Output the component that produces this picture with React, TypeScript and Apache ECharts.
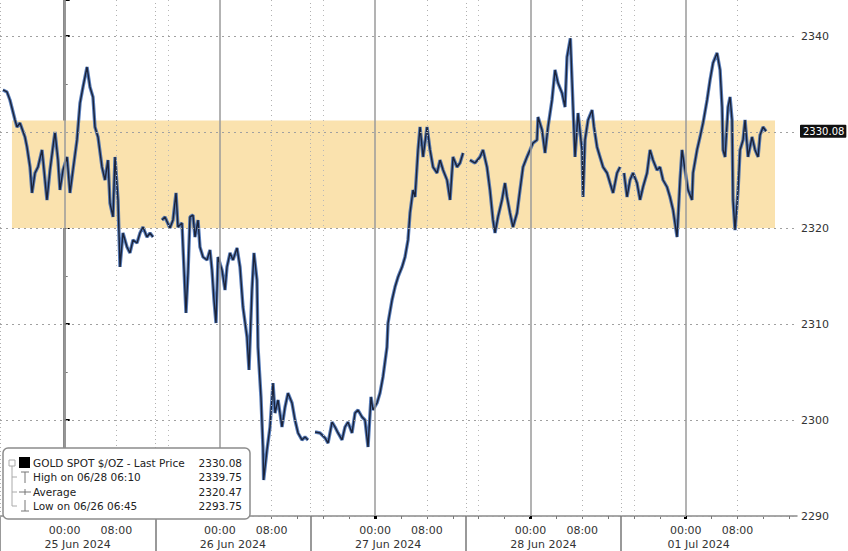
import React, { useEffect, useRef } from "react";
import * as echarts from "echarts";

// Time axis: trading hours relative to 25 Jun 2024 00:00 (weekend removed, 01 Jul 00:00 = 96)
const hours: number[] = [
  // session 24/25 Jun
  -9.54, -8.92, -8.46, -7.68, -7.37, -6.91, -6.14, -5.83, -5.36, -5.05, -4.59, -4.13, -3.51, -3.35, -2.74,
  -2.27, -1.81, -1.5, -1.04, -0.73, -0.26, 0.36, 0.82, 1.28, 1.9, 2.37, 2.83, 3.45, 3.91, 4.37, 4.68, 5.15,
  5.77, 6.23, 6.69, 7.0, 7.47, 7.78, 8.24, 8.55, 9.01, 9.63, 10.09, 10.56, 11.18, 11.64, 12.1, 12.72, 13.19,
  13.65, 14.3,
  // session 26 Jun
  15.04, 15.5, 16.27, 16.74, 17.21, 17.51, 18.13, 18.29, 18.75, 19.06, 19.37, 19.83, 20.14, 20.61, 20.91,
  21.38, 22.0, 22.46, 22.77, 23.08, 23.39, 23.7, 24.32, 24.78, 25.09, 25.56, 26.02, 26.64, 27.1, 27.56, 28.18,
  28.49, 28.95, 29.26, 29.72, 29.88, 30.34, 30.65, 30.75, 31.27, 31.74, 32.2, 32.51, 32.98, 33.59, 34.06,
  34.52, 35.14, 35.6, 36.07, 36.68, 37.15, 37.61, 38.2,
  // session 27 Jun
  38.7, 39.47, 40.25, 40.71, 41.33, 41.79, 42.25, 42.87, 43.33, 43.79, 44.41, 44.88, 45.34, 45.96, 46.42,
  46.89, 47.35, 47.66, 48.28, 48.74, 49.2, 49.82, 49.98, 50.6, 51.06, 51.53, 52.15, 52.61, 53.07, 53.38,
  53.85, 54.16, 54.62, 54.93, 55.4, 56.01, 56.48, 56.94, 57.56, 58.02, 58.49, 59.1, 59.57, 60.03, 60.65,
  61.11, 61.58, 62.1,
  // session 28 Jun
  62.65, 63.42, 64.2, 64.66, 65.28, 65.74, 66.21, 66.52, 66.98, 67.6, 68.06, 68.37, 68.84, 69.3, 69.92,
  70.38, 70.85, 71.46, 71.93, 72.39, 73.01, 73.17, 73.79, 74.25, 74.71, 75.33, 75.8, 76.26, 76.88, 77.34,
  77.65, 78.17, 78.42, 78.58, 78.89, 79.35, 79.97, 80.13, 80.43, 80.9, 81.52, 81.82, 82.29, 82.75, 83.22,
  83.84, 84.3, 84.77, 85.38, 85.85, 86.1,
  // session 01 Jul
  86.46, 86.93, 87.39, 87.85, 88.47, 88.94, 89.4, 90.02, 90.48, 90.94, 91.56, 92.03, 92.49, 93.11, 93.57,
  94.04, 94.66, 95.12, 95.43, 95.89, 96.36, 96.97, 97.13, 97.75, 98.21, 98.68, 99.3, 99.76, 100.22, 100.84,
  101.31, 101.62, 101.77, 102.08, 102.54, 102.85, 103.16, 103.31, 103.62, 104.09, 104.4, 104.86, 105.17,
  105.63, 106.25, 106.72, 107.18, 107.49, 107.95, 108.42,
];

const prices: (number | null)[] = [
  2334.38, 2334.17, 2333.33, 2331.25, 2330.52, 2330.94, 2329.48, 2328.44, 2326.35, 2323.65, 2325.73, 2326.35,
  2328.13, 2327.08, 2322.92, 2326.04, 2328.44, 2330.0, 2327.08, 2323.96, 2326.04, 2327.4, 2323.65, 2326.04,
  2329.17, 2333.02, 2334.69, 2336.77, 2334.69, 2333.65, 2330.52, 2329.48, 2326.35, 2325.0, 2327.08, 2322.6,
  2321.15, 2327.4, 2322.92, 2315.94, 2319.48, 2318.02, 2317.4, 2318.75, 2318.44, 2319.48, 2320.1, 2319.06,
  2319.48, 2319.06, null,
  2320.83, 2321.15, 2320.0, 2320.83, 2323.65, 2320.1, 2320.52, 2318.02, 2311.15, 2315.31, 2321.15, 2321.35,
  2319.06, 2320.83, 2318.02, 2316.98, 2316.67, 2317.71, 2315.63, 2312.5, 2310.1, 2316.98, 2315.63, 2313.54,
  2315.94, 2317.4, 2316.67, 2317.92, 2315.94, 2311.77, 2308.65, 2305.21, 2313.54, 2317.4, 2314.58, 2307.6,
  2302.4, 2297.19, 2293.75, 2296.88, 2299.27, 2303.85, 2300.73, 2302.08, 2299.27, 2301.35, 2302.81, 2301.77,
  2300.0, 2298.65, 2297.92, 2298.23, 2297.92, null,
  2298.75, 2298.65, 2298.13, 2297.6, 2299.79, 2299.27, 2298.65, 2297.92, 2299.27, 2299.79, 2298.65, 2300.73,
  2301.04, 2300.31, 2300.0, 2297.19, 2302.4, 2301.04, 2301.77, 2302.81, 2304.48, 2307.6, 2310.1, 2312.5,
  2313.85, 2314.9, 2315.94, 2316.98, 2318.75, 2321.56, 2323.96, 2323.23, 2328.13, 2330.52, 2327.4, 2330.52,
  2328.13, 2326.35, 2325.73, 2327.08, 2326.04, 2325.0, 2322.92, 2327.4, 2326.35, 2326.77, 2327.81, null,
  2327.08, 2326.77, 2327.4, 2328.13, 2326.35, 2323.96, 2320.83, 2319.48, 2321.15, 2322.92, 2324.69, 2323.23,
  2321.56, 2320.1, 2321.56, 2323.96, 2326.35, 2327.4, 2328.13, 2328.85, 2329.17, 2331.56, 2330.21, 2327.81,
  2330.52, 2333.33, 2336.46, 2335.1, 2334.06, 2332.6, 2337.81, 2339.75, 2335.42, 2332.6, 2327.4, 2331.98,
  2328.13, 2323.23, 2329.17, 2331.25, 2332.29, 2330.52, 2328.44, 2327.4, 2326.35, 2325.73, 2324.69, 2323.65,
  2325.73, 2326.35, null,
  2325.73, 2323.23, 2325.0, 2325.73, 2324.69, 2322.92, 2324.27, 2325.73, 2328.13, 2327.08, 2326.04, 2326.35,
  2325.0, 2324.27, 2323.23, 2321.88, 2319.06, 2325.0, 2328.13, 2326.04, 2323.96, 2322.92, 2325.73, 2328.13,
  2329.48, 2330.94, 2333.33, 2335.42, 2337.19, 2338.23, 2336.46, 2332.6, 2328.13, 2327.4, 2332.6, 2333.65,
  2331.25, 2322.92, 2319.79, 2323.96, 2328.13, 2329.17, 2331.25, 2327.4, 2329.48, 2328.13, 2327.4, 2329.69,
  2330.52, 2330.08,
];

// Axis ticks / labels
const yTicks = [2290, 2300, 2310, 2320, 2330, 2340];
const yLabelTicks = [2290, 2300, 2310, 2320, 2340]; // 2330 is covered by the last-price tag
const timeLabelHours = [0, 8, 24, 32, 48, 56, 72, 80, 96, 104];
const timeLabels = ["00:00", "08:00", "00:00", "08:00", "00:00", "08:00", "00:00", "08:00", "00:00", "08:00"];
const dayMidHours = [2, 26, 50, 74, 98];
const dayLabels = ["25 Jun 2024", "26 Jun 2024", "27 Jun 2024", "28 Jun 2024", "01 Jul 2024"];
const daySeparators = [-10, 14, 38, 62, 86];
const midnightHours = [0, 24, 48, 72, 96];
const eightHours = [8, 32, 56, 80, 104];
const sixteenHours = [16, 40, 64, 88];
const minorTickHours = [-8, -4, 0, 4, 8, 12, 16, 20, 24, 28, 32, 36, 40, 44, 48, 52, 56, 60, 64, 68, 72, 76, 80, 84, 88, 92, 96, 100, 104, 108, 112];

// Highlighted range
const bandLow = 2320;
const bandHigh = 2331.2;
const bandStart = -8.15;
const bandEnd = 109.8;

// Legend values
const lastPrice = 2330.08;
const legendRows = [
  { label: "GOLD SPOT $/OZ - Last Price", value: "2330.08" },
  { label: "High on 06/28 06:10", value: "2339.75" },
  { label: "Average", value: "2320.47" },
  { label: "Low on 06/26 06:45", value: "2293.75" },
];

const FONT = '"DejaVu Sans", Verdana, sans-serif';

export default function App() {
  const ref = useRef<HTMLDivElement>(null);
  useEffect(() => {
    if (!ref.current) return;
    const chart = echarts.init(ref.current, undefined, { renderer: "svg" });
    const data = hours.map((h, i) => [h, prices[i] === null ? "-" : prices[i]]);
    const xMin = -10;
    const xMax = 113.2;

    const rowY = [463, 477, 492, 506];
    const legendGraphics: any[] = [
      {
        type: "rect",
        shape: { x: 3, y: 448, width: 247, height: 71, r: 5 },
        style: { fill: "#ffffff", stroke: "#8c8c8c", lineWidth: 1.5 },
        z: 100,
      },
      { type: "line", shape: { x1: 12, y1: 466, x2: 12, y2: 506 }, style: { stroke: "#aaa", lineWidth: 1 }, z: 101 },
      { type: "rect", shape: { x: 9, y: 460, width: 6, height: 6 }, style: { fill: "#fff", stroke: "#aaa", lineWidth: 1 }, z: 101 },
      { type: "line", shape: { x1: 12, y1: 477, x2: 17, y2: 477 }, style: { stroke: "#aaa", lineWidth: 1 }, z: 101 },
      { type: "line", shape: { x1: 12, y1: 492, x2: 17, y2: 492 }, style: { stroke: "#aaa", lineWidth: 1 }, z: 101 },
      { type: "line", shape: { x1: 12, y1: 506, x2: 17, y2: 506 }, style: { stroke: "#aaa", lineWidth: 1 }, z: 101 },
      { type: "rect", shape: { x: 19, y: 457, width: 11, height: 11 }, style: { fill: "#000" }, z: 101 },
      { type: "line", shape: { x1: 21, y1: 472, x2: 29, y2: 472 }, style: { stroke: "#777", lineWidth: 1 }, z: 101 },
      { type: "line", shape: { x1: 25, y1: 472, x2: 25, y2: 483 }, style: { stroke: "#777", lineWidth: 1 }, z: 101 },
      { type: "line", shape: { x1: 19, y1: 492, x2: 31, y2: 492 }, style: { stroke: "#777", lineWidth: 1 }, z: 101 },
      { type: "line", shape: { x1: 25, y1: 489, x2: 25, y2: 495 }, style: { stroke: "#777", lineWidth: 1 }, z: 101 },
      { type: "line", shape: { x1: 21, y1: 511, x2: 29, y2: 511 }, style: { stroke: "#777", lineWidth: 1 }, z: 101 },
      { type: "line", shape: { x1: 25, y1: 500, x2: 25, y2: 511 }, style: { stroke: "#777", lineWidth: 1 }, z: 101 },
    ];
    legendRows.forEach((r, i) => {
      legendGraphics.push({
        type: "text",
        x: 33,
        y: rowY[i],
        z: 102,
        style: { text: r.label, fill: "#222", font: `10.5px ${FONT}`, align: "left", verticalAlign: "middle" },
      });
      legendGraphics.push({
        type: "text",
        x: 242,
        y: rowY[i],
        z: 102,
        style: { text: r.value, fill: "#222", font: `10.5px ${FONT}`, align: "right", verticalAlign: "middle" },
      });
    });

    const baseX = {
      type: "value",
      min: xMin,
      max: xMax,
      position: "bottom",
      gridIndex: 0,
      splitLine: { show: false },
    };

    chart.setOption({
      animation: false,
      backgroundColor: "#ffffff",
      grid: { left: 0, right: 51, top: 0, bottom: 35, containLabel: false },
      xAxis: [
        {
          ...baseX,
          axisLine: { show: true, lineStyle: { color: "#8a8a8a", width: 1.5 } },
          axisTick: { show: true, customValues: minorTickHours, length: 3, lineStyle: { color: "#777", width: 1 } },
          axisLabel: {
            show: true,
            customValues: timeLabelHours,
            formatter: (v: number) => timeLabels[timeLabelHours.indexOf(Math.round(v))] ?? "",
            color: "#333",
            fontFamily: FONT,
            fontSize: 11,
            margin: 9,
          },
        },
        {
          ...baseX,
          axisLine: { show: false },
          axisTick: { show: true, customValues: daySeparators, length: 35, lineStyle: { color: "#777", width: 1.5 } },
          axisLabel: {
            show: true,
            customValues: dayMidHours,
            formatter: (v: number) => dayLabels[dayMidHours.indexOf(Math.round(v))] ?? "",
            color: "#333",
            fontFamily: FONT,
            fontSize: 11,
            margin: 23,
          },
        },
        {
          ...baseX,
          axisLine: { show: false },
          axisTick: { show: true, customValues: midnightHours, length: 3, lineStyle: { color: "#000", width: 3 } },
          axisLabel: { show: false },
        },
      ],
      yAxis: {
        type: "value",
        position: "right",
        min: 2290,
        max: 2343.75,
        interval: 10,
        axisLine: { show: true, lineStyle: { color: "#8a8a8a", width: 3 } },
        axisTick: { show: true, length: 5, lineStyle: { color: "#000", width: 2 } },
        minorTick: { show: true, splitNumber: 2, length: 3, lineStyle: { color: "#777", width: 1 } },
        splitLine: { show: false },
        axisLabel: {
          show: true,
          showMaxLabel: false,
          color: "#333",
          fontFamily: FONT,
          fontSize: 11,
          margin: 4,
          formatter: (v: number) => (yLabelTicks.includes(v) ? String(v) : ""),
        },
      },
      graphic: legendGraphics,
      series: [
        {
          name: "band",
          type: "line",
          data: [],
          z: 1,
          silent: true,
          markArea: {
            silent: true,
            itemStyle: { color: "#fae2ae", opacity: 1 },
            data: [[{ xAxis: bandStart, yAxis: bandLow }, { xAxis: bandEnd, yAxis: bandHigh }]],
          },
        },
        {
          name: "grid",
          type: "line",
          data: [],
          z: 2,
          silent: true,
          markLine: {
            silent: true,
            symbol: "none",
            label: { show: false },
            data: [
              ...yTicks.map((v) => ({ yAxis: v, lineStyle: { color: "#a0a0a0", type: [2, 4], width: 1 } })),
              ...midnightHours.map((v) => ({ xAxis: v, lineStyle: { color: "#9a9a9a", type: "solid", width: 1.5 } })),
              ...eightHours.map((v) => ({ xAxis: v, lineStyle: { color: "#b0b0b0", type: [1, 4], width: 1 } })),
              ...sixteenHours.map((v) => ({ xAxis: v, lineStyle: { color: "#b8b8b8", type: [1, 4], width: 1 } })),
              ...daySeparators.map((v) => ({ xAxis: v, lineStyle: { color: "#b0b0b0", type: [1, 3], width: 1 } })),
            ],
          },
        },
        {
          name: "GOLD SPOT glow",
          type: "line",
          data,
          z: 3,
          showSymbol: false,
          connectNulls: false,
          lineStyle: { color: "#3d68b0", width: 3.4, opacity: 0.85 },
          silent: true,
        },
        {
          name: "GOLD SPOT $/OZ",
          type: "line",
          data,
          z: 4,
          showSymbol: false,
          connectNulls: false,
          lineStyle: { color: "#141a2b", width: 1.4, opacity: 0.9 },
          silent: true,
        },
        {
          name: "last price",
          type: "line",
          data: [],
          z: 5,
          silent: true,
          markLine: {
            silent: true,
            symbol: "none",
            lineStyle: { color: "rgba(0,0,0,0)", width: 1, type: "solid" },
            label: {
              show: true,
              position: "end",
              distance: 3,
              formatter: () => lastPrice.toFixed(2),
              backgroundColor: "#111111",
              color: "#ffffff",
              opacity: 1,
              fontFamily: FONT,
              fontSize: 10,
              padding: [2, 2, 1, 3],
              borderRadius: 1,
            },
            data: [{ yAxis: lastPrice }],
          },
        },
      ],
    });
    return () => chart.dispose();
  }, []);
  return <div ref={ref} style={{ position: "fixed", left: 0, top: 0, width: 848, height: 551 }} />;
}
